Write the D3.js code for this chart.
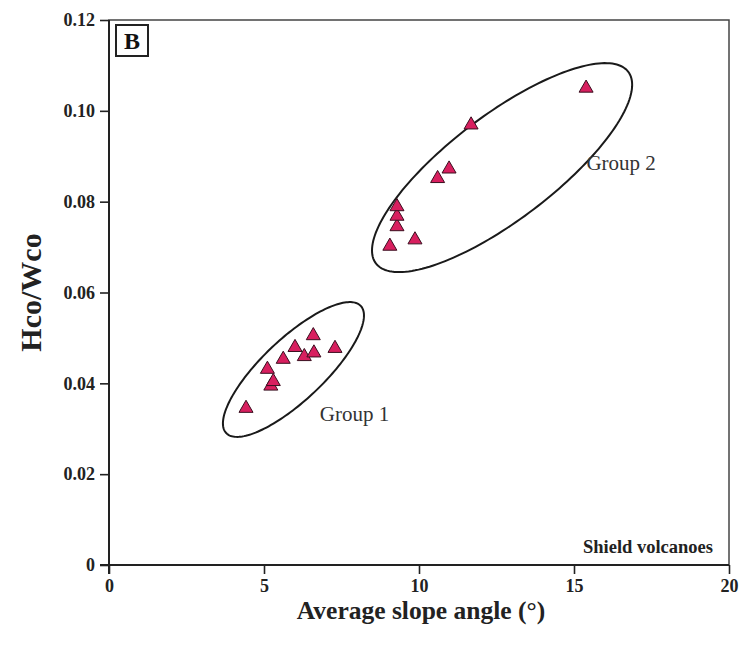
<!DOCTYPE html>
<html>
<head>
<meta charset="utf-8">
<script src="https://cdn.jsdelivr.net/npm/d3@7/dist/d3.min.js"></script>
<style>
  html, body { margin: 0; padding: 0; background: #fff; }
  svg { display: block; }
  text { font-family: "Liberation Serif", "Times New Roman", serif; }
</style>
</head>
<body>
<div id="chart"></div>
<script>
// Average slope angle (°) and Hco/Wco ratio of shield volcanoes
const slopeGroup1 = [4.42, 5.11, 5.22, 5.30, 5.62, 6.00, 6.30, 6.61, 6.59, 7.29];
const ratioGroup1 = [0.0345, 0.0431, 0.0394, 0.0404, 0.0453, 0.0479, 0.0459, 0.0467, 0.0505, 0.0477];
const slopeGroup2 = [9.06, 9.29, 9.29, 9.29, 9.87, 10.60, 10.97, 11.68, 15.39];
const ratioGroup2 = [0.0702, 0.0745, 0.0768, 0.0789, 0.0716, 0.0851, 0.0872, 0.0969, 0.1050];

const xTicks = [0, 5, 10, 15, 20];
const yTicks = [0, 0.02, 0.04, 0.06, 0.08, 0.10, 0.12];
const yTickLabels = ["0", "0.02", "0.04", "0.06", "0.08", "0.10", "0.12"];

// Group outlines: centre, semi-major axis vector (data units), minor/major ratio
const groupNames = ["Group 1", "Group 2"];
const ellipseCx = [5.95, 12.68];
const ellipseCy = [0.04305, 0.0875];
const ellipseDx = [2.17, 4.07];
const ellipseDy = [0.0140, 0.0211];
const ellipseRatio = [0.333, 0.33];
// Label anchors in data units
const labelX = [6.8, 15.4];
const labelY = [0.0317, 0.0870];

const W = 752, H = 651;
const margin = { left: 109, right: 23, top: 20, bottom: 86 };

const svg = d3.select("#chart").append("svg")
  .attr("width", W).attr("height", H);

const x = d3.scaleLinear().domain([0, 20]).range([margin.left, W - margin.right]);
const y = d3.scaleLinear().domain([0, 0.12]).range([H - margin.bottom, margin.top]);

// Frame (top and right)
svg.append("rect")
  .attr("x", x(0)).attr("y", y(0.12))
  .attr("width", x(20) - x(0)).attr("height", y(0) - y(0.12))
  .attr("fill", "none").attr("stroke", "#444").attr("stroke-width", 1.5);

// Axes
const xAxis = svg.append("g")
  .attr("transform", `translate(0,${y(0)})`)
  .call(d3.axisBottom(x).tickValues(xTicks).tickFormat(d3.format("d")).tickSize(9).tickPadding(5));
const yAxis = svg.append("g")
  .attr("transform", `translate(${x(0)},0)`)
  .call(d3.axisLeft(y).tickValues(yTicks).tickFormat((d, i) => yTickLabels[i]).tickSize(9).tickPadding(5));

[xAxis, yAxis].forEach(g => {
  g.attr("font-size", null).attr("font-family", null);
  g.select(".domain").attr("stroke", "#222").attr("stroke-width", 2);
  g.selectAll(".tick line").attr("stroke", "#222").attr("stroke-width", 1.6);
  g.selectAll(".tick text")
    .attr("fill", "#222")
    .style("font-family", "'Liberation Serif', serif")
    .style("font-weight", "bold")
    .style("font-size", "18px");
});
// extend axis lines past the origin like the tick marks
xAxis.select(".domain").attr("d", `M${x(0) - 9},0H${x(20)}`);
yAxis.select(".domain").attr("d", `M0,${y(0) + 9}V${y(0.12)}`);

// Axis titles
svg.append("text")
  .attr("x", (x(0) + x(20)) / 2 + 2).attr("y", 619)
  .attr("text-anchor", "middle")
  .style("font-weight", "bold").style("font-size", "25.5px").attr("fill", "#222")
  .text("Average slope angle (°)");

svg.append("text")
  .attr("transform", `translate(41,${(y(0) + y(0.12)) / 2}) rotate(-90)`)
  .attr("text-anchor", "middle")
  .style("font-weight", "bold").style("font-size", "30px").attr("fill", "#222")
  .text("Hco/Wco");

// Panel letter
const bx = x(0) + 7, by = y(0.12) + 5;
svg.append("rect")
  .attr("x", bx).attr("y", by).attr("width", 32).attr("height", 31)
  .attr("fill", "#fff").attr("stroke", "#222").attr("stroke-width", 2);
svg.append("text")
  .attr("x", bx + 16).attr("y", by + 24)
  .attr("text-anchor", "middle")
  .style("font-weight", "bold").style("font-size", "24px").attr("fill", "#111")
  .text("B");

// Corner caption
svg.append("text")
  .attr("x", x(20) - 16).attr("y", y(0) - 12)
  .attr("text-anchor", "end")
  .style("font-weight", "bold").style("font-size", "18.5px").attr("fill", "#222")
  .text("Shield volcanoes");

// Group ellipses
const line = d3.line().curve(d3.curveLinearClosed);
groupNames.forEach((name, i) => {
  const cx = x(ellipseCx[i]), cy = y(ellipseCy[i]);
  const ux = x(ellipseCx[i] + ellipseDx[i]) - cx;
  const uy = y(ellipseCy[i] + ellipseDy[i]) - cy;
  const vx = -uy * ellipseRatio[i], vy = ux * ellipseRatio[i];
  const pts = d3.range(0, 360, 2).map(deg => {
    const t = deg * Math.PI / 180;
    return [cx + ux * Math.cos(t) + vx * Math.sin(t), cy + uy * Math.cos(t) + vy * Math.sin(t)];
  });
  svg.append("path")
    .attr("d", line(pts))
    .attr("fill", "none").attr("stroke", "#1a1a1a").attr("stroke-width", 2);

  svg.append("text")
    .attr("x", x(labelX[i])).attr("y", y(labelY[i]))
    .style("font-size", "21px").attr("fill", "#333")
    .text(name);
});

// Data points
const tri = d3.symbol().type(d3.symbolTriangle).size(85);
const points = slopeGroup1.map((s, i) => [s, ratioGroup1[i]])
  .concat(slopeGroup2.map((s, i) => [s, ratioGroup2[i]]));
svg.append("g").selectAll("path")
  .data(points)
  .join("path")
  .attr("d", tri)
  .attr("transform", d => `translate(${x(d[0])},${y(d[1])})`)
  .attr("fill", "#d81f5f")
  .attr("stroke", "#3a0f1f")
  .attr("stroke-width", 1);
</script>
</body>
</html>
